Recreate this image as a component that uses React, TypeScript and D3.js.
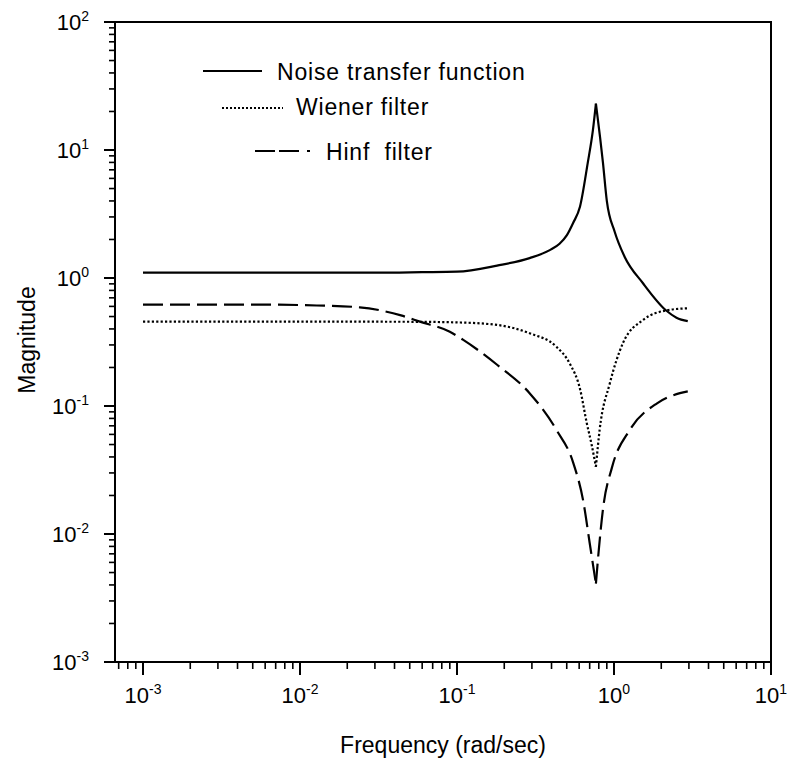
import React from 'react';
import * as d3 from 'd3';

// ---- data ----
const noiseFreq = [0.001, 0.01, 0.03, 0.06, 0.1, 0.18, 0.29, 0.39, 0.45, 0.5, 0.55, 0.607, 0.68, 0.734, 0.767, 0.815, 0.85, 0.9, 1.01, 1.17, 1.53, 2.14, 2.5, 2.95];
const noiseMag = [1.1, 1.1, 1.1, 1.11, 1.12, 1.25, 1.43, 1.65, 1.85, 2.15, 2.7, 3.6, 7.9, 14.3, 23, 12.6, 8.0, 4.0, 2.3, 1.46, 0.91, 0.56, 0.49, 0.46];

const wienerFreq = [0.001, 0.01, 0.05, 0.1, 0.18, 0.29, 0.43, 0.52, 0.61, 0.67, 0.72, 0.767, 0.81, 0.94, 1.14, 1.53, 2.18, 2.95];
const wienerMag = [0.456, 0.456, 0.455, 0.45, 0.43, 0.37, 0.29, 0.217, 0.133, 0.074, 0.05, 0.0335, 0.065, 0.15, 0.31, 0.47, 0.56, 0.58];

const hinfFreq = [0.001, 0.005, 0.0128, 0.024, 0.044, 0.058, 0.09, 0.109, 0.18, 0.29, 0.43, 0.55, 0.64, 0.7, 0.767, 0.8, 0.85, 0.97, 1.26, 1.88, 2.63, 2.95];
const hinfMag = [0.62, 0.62, 0.61, 0.59, 0.51, 0.456, 0.38, 0.33, 0.21, 0.126, 0.065, 0.036, 0.0175, 0.0085, 0.0041, 0.0075, 0.0155, 0.033, 0.065, 0.105, 0.126, 0.13];

const xTickExps = [-3, -2, -1, 0, 1];
const yTickExps = [-3, -2, -1, 0, 1, 2];
const legendLabels = ['Noise transfer function', 'Wiener filter', 'Hinf  filter'];
const xTitle = 'Frequency (rad/sec)';
const yTitle = 'Magnitude';

const FONT = 'Arial, "Liberation Sans", Helvetica, sans-serif';

export default function App() {
  const W = 788, H = 764;
  const left = 115, right = 771, top = 22, bottom = 662;
  const x = d3.scaleLog().domain([Math.pow(10, -3 - 28 / 157), 10]).range([left, right]);
  const y = d3.scaleLog().domain([1e-3, 1e2]).range([bottom, top]);

  const line = d3.line<[number, number]>()
    .x(d => x(d[0]))
    .y(d => y(d[1]))
    .curve(d3.curveMonotoneX);

  // split at the extremum so the peak / notch stays pointed
  const paths = (fr: number[], mg: number[], pickMax: boolean) => {
    const pts = fr.map((f, i) => [f, mg[i]] as [number, number]);
    let k = 0;
    pts.forEach((p, i) => {
      if (pickMax ? p[1] > pts[k][1] : p[1] < pts[k][1]) k = i;
    });
    return [line(pts.slice(0, k + 1)) || '', line(pts.slice(k)) || ''];
  };

  const noisePaths = paths(noiseFreq, noiseMag, true);
  const wienerPaths = paths(wienerFreq, wienerMag, false);
  const hinfPaths = paths(hinfFreq, hinfMag, false);

  const [xd0, xd1] = x.domain();
  const xMinor: number[] = [];
  for (let e = -4; e <= 1; e++) {
    for (let m = 2; m <= 9; m++) {
      const v = m * Math.pow(10, e);
      if (v >= xd0 && v <= xd1) xMinor.push(v);
    }
  }
  const yMinor: number[] = [];
  for (let e = -3; e < 2; e++) {
    for (let m = 2; m <= 9; m++) yMinor.push(m * Math.pow(10, e));
  }

  const sup = (e: number) => (e < 0 ? '-' + Math.abs(e) : String(e));

  const curveW = 2.2;

  return (
    <svg width={W} height={H} style={{ position: 'absolute', left: 0, top: 0, background: '#fff' }}
      fontFamily={FONT}>
      <rect x={0} y={0} width={W} height={H} fill="#fff" />

      {/* frame */}
      <rect x={left} y={top} width={right - left} height={bottom - top} fill="none" stroke="#000" strokeWidth={2} />

      {/* y ticks */}
      {yMinor.map((v, i) => (
        <line key={'ym' + i} x1={left - 6} x2={left + 1} y1={y(v)} y2={y(v)} stroke="#000" strokeWidth={1.6} />
      ))}
      {yTickExps.map(e => (
        <line key={'yM' + e} x1={left - 11} x2={left + 1} y1={y(Math.pow(10, e))} y2={y(Math.pow(10, e))} stroke="#000" strokeWidth={2} />
      ))}
      {yTickExps.map(e => (
        <text key={'yl' + e} x={89} y={y(Math.pow(10, e)) + 8} textAnchor="end" fontSize={22} fill="#000">
          10<tspan fontSize={14} dy={-9}>{sup(e)}</tspan>
        </text>
      ))}

      {/* x ticks */}
      {xMinor.map((v, i) => (
        <line key={'xm' + i} x1={x(v)} x2={x(v)} y1={bottom - 1} y2={bottom + 7} stroke="#000" strokeWidth={1.6} />
      ))}
      {xTickExps.map(e => (
        <line key={'xM' + e} x1={x(Math.pow(10, e))} x2={x(Math.pow(10, e))} y1={bottom - 1} y2={bottom + 13} stroke="#000" strokeWidth={2} />
      ))}
      {xTickExps.map(e => (
        <text key={'xl' + e} x={x(Math.pow(10, e))} y={703} textAnchor="middle" fontSize={22} fill="#000">
          10<tspan fontSize={14} dy={-9}>{sup(e)}</tspan>
        </text>
      ))}

      {/* axis titles */}
      <text x={443} y={753} textAnchor="middle" fontSize={23} fill="#000">{xTitle}</text>
      <text transform="translate(35,340) rotate(-90)" textAnchor="middle" fontSize={23} fill="#000">{yTitle}</text>

      {/* curves */}
      <g fill="none" stroke="#000" strokeWidth={curveW}>
        {noisePaths.map((d, i) => <path key={'n' + i} d={d} />)}
        {wienerPaths.map((d, i) => <path key={'w' + i} d={d} strokeDasharray="2.2,2.2" />)}
        {hinfPaths.map((d, i) => <path key={'h' + i} d={d} strokeDasharray="20,7" />)}
      </g>

      {/* legend */}
      <g stroke="#000" strokeWidth={curveW} fill="none">
        <line x1={203} x2={262} y1={71} y2={71} />
        <line x1={222} x2={283} y1={108} y2={108} strokeDasharray="2,2" strokeWidth={1.8} />
        <line x1={255} x2={313} y1={151} y2={151} strokeDasharray="20,4,20,8,3,4" />
      </g>
      <g fontSize={23} fill="#000" letterSpacing={0.8}>
        <text x={277} y={80}>{legendLabels[0]}</text>
        <text x={296} y={115}>{legendLabels[1]}</text>
        <text x={326} y={160} xmlSpace="preserve" style={{ whiteSpace: 'pre' }}>{legendLabels[2]}</text>
      </g>
    </svg>
  );
}
